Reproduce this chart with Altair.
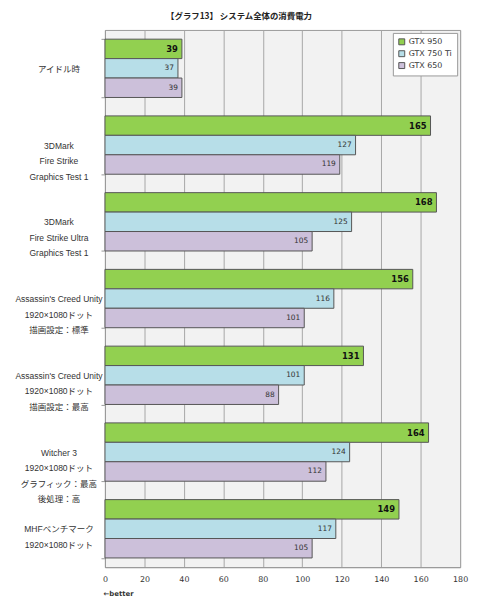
import altair as alt
import pandas as pd

categories = [
    "アイドル時",
    "3DMark|Fire Strike|Graphics Test 1",
    "3DMark|Fire Strike Ultra|Graphics Test 1",
    "Assassin's  Creed Unity|1920×1080ドット|描画設定：標準",
    "Assassin's  Creed Unity|1920×1080ドット|描画設定：最高",
    "Witcher 3|1920×1080ドット|グラフィック：最高|後処理：高",
    "MHFベンチマーク|1920×1080ドット",
]
series = ["GTX 950", "GTX 750 Ti", "GTX 650"]
gtx950 = [39, 165, 168, 156, 131, 164, 149]
gtx750ti = [37, 127, 125, 116, 101, 124, 117]
gtx650 = [39, 119, 105, 101, 88, 112, 105]
colors = ["#92D050", "#B7DEE8", "#CCC0DA"]
x_ticks = [0, 20, 40, 60, 80, 100, 120, 140, 160, 180]

rows = []
for s, vals in zip(series, [gtx950, gtx750ti, gtx650]):
    for c, v in zip(categories, vals):
        rows.append({"cat": c, "series": s, "value": v, "first": s == series[0]})
df = pd.DataFrame(rows)

FONT = "DejaVu Sans, Noto Sans CJK JP"
LFONT = "Liberation Sans, Noto Sans CJK JP"
JFONT = "Noto Sans CJK JP"

y_enc = alt.Y(
    "cat:N",
    sort=categories,
    scale=alt.Scale(paddingInner=0.24, paddingOuter=0.12),
    axis=alt.Axis(
        title=None,
        labelExpr="split(datum.label, '|')",
        labelAlign="center",
        labelBaseline="middle",
        labelPadding=43,
        labelFont=LFONT,
        labelFontSize=8.6,
        labelLineHeight=15.7,
        labelColor="#333333",
        tickBand="extent",
        tickSize=4,
        tickColor="#999999",
        domainColor="#999999",
        grid=False,
        labelLimit=300,
    ),
)
yoff = alt.YOffset("series:N", sort=series, scale=alt.Scale(paddingInner=0, paddingOuter=0))
x_enc = alt.X(
    "value:Q",
    scale=alt.Scale(domain=[0, 180], nice=False),
    axis=alt.Axis(
        values=x_ticks,
        title="←better",
        titleFont=FONT,
        titleFontSize=7,
        titleFontWeight="bold",
        titleColor="#333333",
        titleAnchor="start",
        titleAlign="left",
        titleX=-2,
        titleY=27,
        titleBaseline="middle",
        labelFont=FONT,
        labelFontSize=8,
        labelColor="#333333",
        labelPadding=8,
        labelOverlap=False,
        labelFlush=False,
        grid=True,
        gridColor="#A6A6A6",
        domainColor="#999999",
        tickSize=0,
    ),
)

bars = alt.Chart().mark_bar(stroke="#555555", strokeWidth=1).encode(
    color=alt.Color(
        "series:N",
        sort=series,
        scale=alt.Scale(domain=series, range=colors),
        legend=alt.Legend(
            title=None,
            orient="top-right",
            offset=3,
            fillColor="white",
            strokeColor="#999999",
            padding=5,
            symbolType="square",
            symbolSize=36,
            symbolStrokeColor="#555555",
            symbolStrokeWidth=1,
            labelFont=FONT,
            labelFontSize=8,
            labelColor="#333333",
            rowPadding=2,
            labelOffset=3,
        ),
    ),
)

text_main = alt.Chart().transform_filter("datum.first").mark_text(
    align="right", baseline="middle", dx=-4, font=FONT, fontSize=8.5, fontWeight="bold", color="#111111"
).encode(text="value:Q")

text_other = alt.Chart().transform_filter("!datum.first").mark_text(
    align="right", baseline="middle", dx=-4, font=FONT, fontSize=7.5, color="#333333"
).encode(text="value:Q")

chart = (
    alt.layer(bars, text_main, text_other, data=df)
    .encode(x=x_enc, y=y_enc, yOffset=yoff)
    .properties(
        width=359,
        height=543,
        autosize=alt.AutoSizeParams(type="none"),
        padding={"left": 98, "top": 19, "right": 12, "bottom": 29},
        title=alt.TitleParams(
            "【グラフ13】 システム全体の消費電力",
            font=JFONT,
            fontSize=8.5,
            fontWeight="bold",
            color="#222222",
            anchor="middle",
            dx=-44,
            offset=6,
        ),
        background="white",
    )
    .configure_view(fill="#F2F2F2", stroke="#999999")
)

chart.save("out.html", embed_options={"renderer": "svg", "actions": False})
